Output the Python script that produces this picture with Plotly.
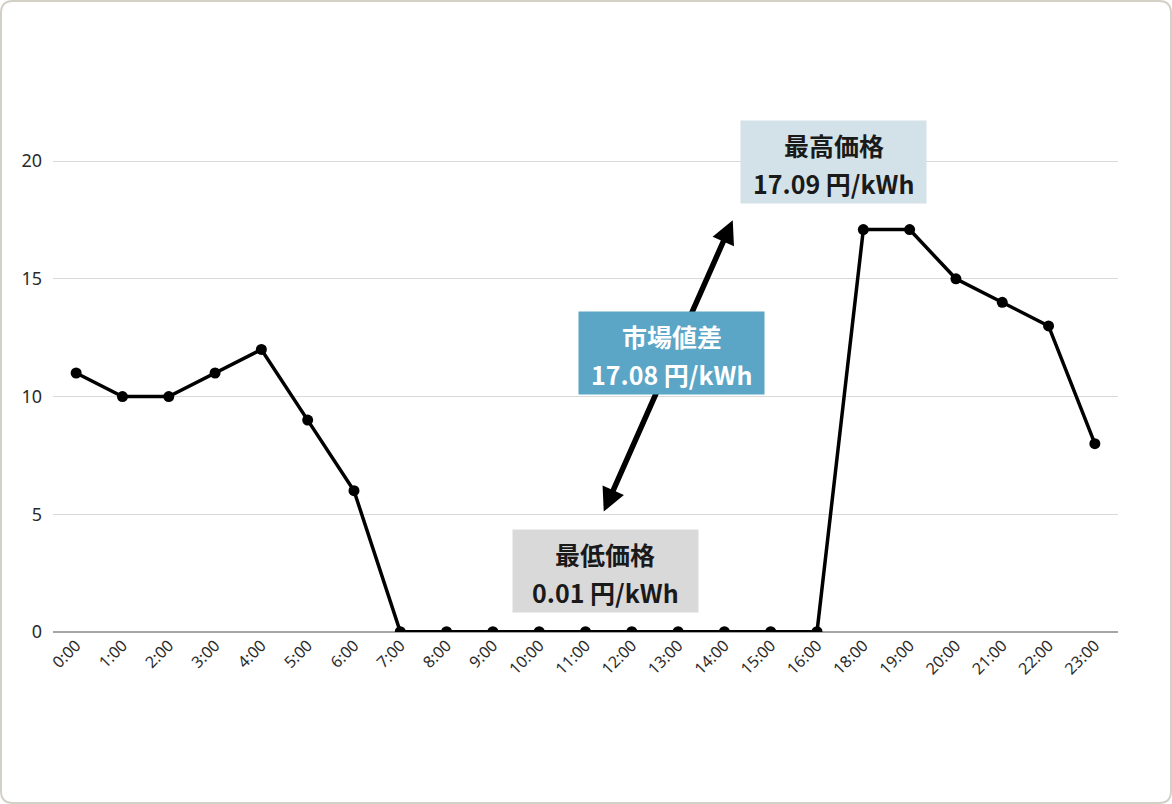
import plotly.graph_objects as go

hours = ["0:00", "1:00", "2:00", "3:00", "4:00", "5:00", "6:00", "7:00", "8:00", "9:00",
         "10:00", "11:00", "12:00", "13:00", "14:00", "15:00", "16:00", "18:00", "19:00",
         "20:00", "21:00", "22:00", "23:00"]
prices = [11, 10, 10, 11, 12, 9, 6, 0.01, 0.01, 0.01, 0.01, 0.01, 0.01, 0.01, 0.01, 0.01, 0.01,
          17.09, 17.09, 15, 14, 13, 8]
y_ticks = [0, 5, 10, 15, 20]

label_max = ["最高価格", "17.09 円/kWh"]
label_diff = ["市場値差", "17.08 円/kWh"]
label_min = ["最低価格", "0.01 円/kWh"]

W, H = 1172, 804
L, R, T, B = 53, 54, 114, 172
YMAX = 22

fig = go.Figure()
fig.add_trace(go.Scatter(
    x=list(range(len(hours))), y=prices, mode="lines+markers",
    line=dict(color="#000000", width=3.5),
    marker=dict(color="#000000", size=11),
    hoverinfo="skip", showlegend=False,
))

jp = "Noto Sans CJK JP"

def px2paper(px, py):
    return (px - L) / (W - L - R), (H - B - py) / (H - T - B)

# rounded frame
r = 12
x0, y0, x1, y1 = 1, 1, W - 1, H - 1
def P(px, py):
    a, b = px2paper(px, py)
    return f"{a:.5f},{b:.5f}"
path = (f"M {P(x0+r,y0)} L {P(x1-r,y0)} Q {P(x1,y0)} {P(x1,y0+r)} "
        f"L {P(x1,y1-r)} Q {P(x1,y1)} {P(x1-r,y1)} L {P(x0+r,y1)} "
        f"Q {P(x0,y1)} {P(x0,y1-r)} L {P(x0,y0+r)} Q {P(x0,y0)} {P(x0+r,y0)} Z")
fig.add_shape(type="path", xref="paper", yref="paper", path=path,
              line=dict(color="#d3d0c6", width=2), fillcolor="rgba(0,0,0,0)", layer="below")

# double arrow
fig.add_annotation(x=14.18, y=17.49, ax=11.38, ay=5.05, xref="x", yref="y", axref="x", ayref="y",
                   text="", showarrow=True, arrowhead=2, startarrowhead=2, arrowside="end+start",
                   arrowsize=0.85, startarrowsize=0.85, arrowwidth=5.5, arrowcolor="#000000",
                   standoff=0, startstandoff=0)

def box(x, y, lines, bg, color):
    fig.add_annotation(x=x, y=y, xref="x", yref="y", text=" ", showarrow=False,
                       bgcolor=bg, width=185, height=82, borderpad=0)
    for t, dy in zip(lines, (17, -21)):
        fig.add_annotation(x=x, y=y, xref="x", yref="y", text=t, showarrow=False,
                           yshift=dy, font=dict(family=jp, size=25, color=color, weight="bold"))

box(16.36, 19.96, label_max, "#d3e2e8", "#1a1a1a")
box(11.43, 2.59, label_min, "#d9d9d9", "#1a1a1a")
box(12.86, 11.85, label_diff, "#5ba6c6", "#ffffff")

fig.update_layout(
    width=W, height=H,
    margin=dict(l=L, r=R, t=T, b=B),
    paper_bgcolor="#ffffff", plot_bgcolor="#ffffff",
    font=dict(family="Noto Sans", color="#333333", size=16),
    xaxis=dict(tickmode="array", tickvals=list(range(len(hours))), ticktext=hours,
               range=[-0.5, len(hours) - 0.5], tickangle=-45, showgrid=False,
               zeroline=False, showline=False, ticks="", tickfont=dict(size=16, color="#2b2b2b")),
    yaxis=dict(range=[0, YMAX], tickvals=y_ticks, showgrid=True, gridcolor="#d9d9d9",
               gridwidth=1, zeroline=True, zerolinecolor="#a6a6a6", zerolinewidth=1.5,
               showline=False, ticks="", ticklen=0, ticklabelstandoff=10,
               tickfont=dict(size=18, color="#2b2b2b")),
    showlegend=False,
)

fig.write_html("out.html", config={"displayModeBar": False},
               post_script="document.body.style.margin='0px';document.body.style.overflow='hidden';")
